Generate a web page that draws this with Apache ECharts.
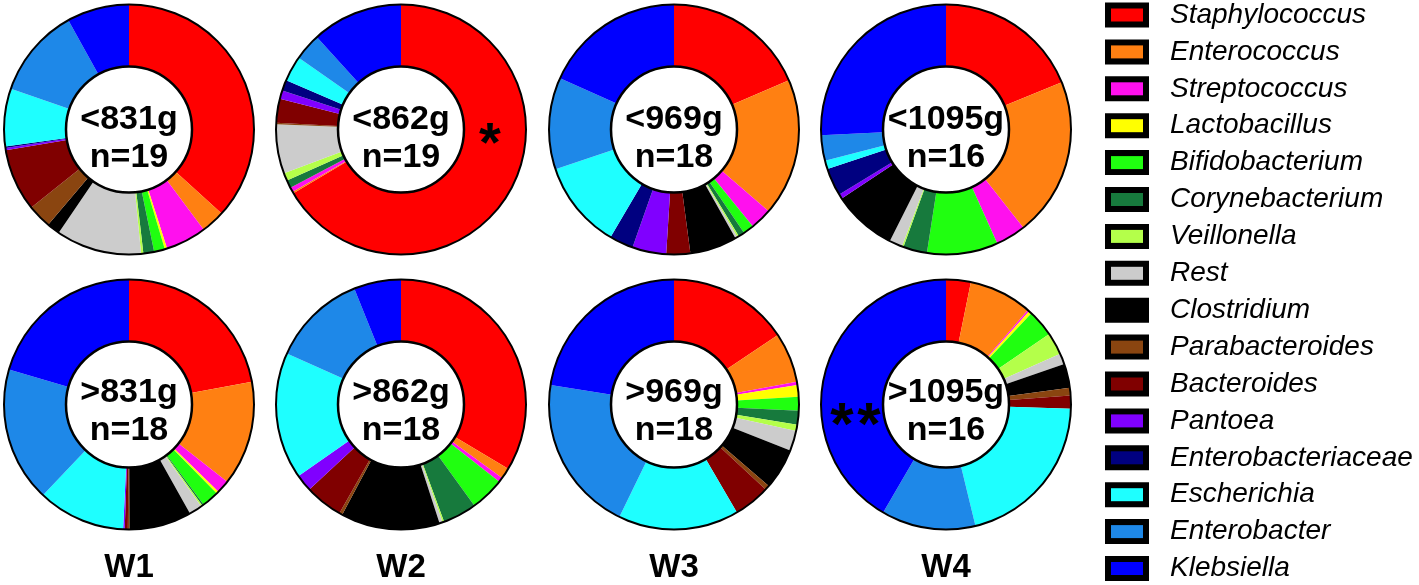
<!DOCTYPE html>
<html><head><meta charset="utf-8">
<script src="https://cdn.jsdelivr.net/npm/echarts@6/dist/echarts.min.js"></script>
<style>html,body{margin:0;padding:0;background:#fff}#c{width:1419px;height:585px}</style>
</head><body><div id="c"></div>
<script>
const categories = ['Staphylococcus','Enterococcus','Streptococcus','Lactobacillus','Bifidobacterium','Corynebacterium','Veillonella','Rest','Clostridium','Parabacteroides','Bacteroides','Pantoea','Enterobacteriaceae','Escherichia','Enterobacter','Klebsiella'];
const colors = ['#ff0000','#ff8012','#ff10ee','#ffff00','#20ff10','#177a3d','#b4ff4a','#cccccc','#000000','#8a4510','#800000','#8000ff','#000080','#1effff','#1e88e8','#0000ff'];

// relative abundance (%) per group, in category order
const w1Low  = [36.9, 3.1, 5.3, 0.3, 1.4, 1.4, 0.3, 11.1, 1.7, 3.1, 8.1, 0.3, 0.2, 7.5, 11.7, 8.1];
const w2Low  = [66.7, 0.2, 0.6, 0, 0, 1.0, 1.0, 6.4, 0, 0.2, 3.1, 1.1, 1.4, 3.3, 3.5, 11.8];
const w3Low  = [18.6, 17.8, 2.8, 0, 1.4, 0.8, 0.2, 0.3, 6.1, 0, 3.1, 4.4, 3.1, 11.4, 11.9, 18.3];
const w4Low  = [18.9, 20.6, 3.9, 0, 9.2, 3.1, 0.2, 1.7, 8.3, 0, 0, 0.6, 3.6, 1.1, 3.3, 25.8];
const w1High = [22.2, 13.6, 1.7, 0.3, 2.2, 0.2, 0.2, 1.7, 8.1, 0.2, 0.4, 0.2, 0, 11.4, 17.5, 20.6];
const w2High = [33.6, 1.4, 0.6, 0, 4.4, 4.4, 0.2, 0.4, 12.8, 0.4, 4.9, 2.2, 0, 16.4, 12.2, 6.1];
const w3High = [15.6, 6.5, 0.4, 1.5, 1.8, 1.8, 0.8, 2.6, 5.3, 0.6, 4.7, 0, 0, 15.6, 20.3, 22.5];
const w4High = [3.2, 8.2, 0.2, 0.4, 3.5, 0, 2.9, 1.4, 3.1, 1.0, 1.7, 0, 0, 20.7, 12.2, 41.7];

const lowLabels  = ['<831g','<862g','<969g','<1095g'];
const highLabels = ['>831g','>862g','>969g','>1095g'];
const nLow  = [19, 19, 18, 16];
const nHigh = [18, 18, 18, 16];
const weeks = ['W1','W2','W3','W4'];

const centersX = [129, 401, 674, 946];
const centersY = [129.5, 404.5];
const FONT = 'Liberation Sans, Arial, Helvetica, sans-serif';

const groups = [
  {vals: w1Low, label: lowLabels[0], n: nLow[0]},
  {vals: w2Low, label: lowLabels[1], n: nLow[1]},
  {vals: w3Low, label: lowLabels[2], n: nLow[2]},
  {vals: w4Low, label: lowLabels[3], n: nLow[3]},
  {vals: w1High, label: highLabels[0], n: nHigh[0]},
  {vals: w2High, label: highLabels[1], n: nHigh[1]},
  {vals: w3High, label: highLabels[2], n: nHigh[2]},
  {vals: w4High, label: highLabels[3], n: nHigh[3]}
];

const series = [];
groups.forEach((g, i) => {
  const center = [centersX[i % 4], centersY[i < 4 ? 0 : 1]];
  series.push({
    type: 'pie', center, radius: [63, 125], startAngle: 90, clockwise: true,
    silent: true, animation: false, avoidLabelOverlap: false,
    label: {show: false}, labelLine: {show: false},
    itemStyle: {borderWidth: 0},
    emphasis: {disabled: true},
    data: categories.map((c, k) => ({name: c, value: g.vals[k], itemStyle: {color: colors[k]}}))
  });
  series.push({
    type: 'pie', center, radius: [0, 125], silent: true, animation: false,
    label: {show: false}, labelLine: {show: false}, emphasis: {disabled: true},
    itemStyle: {color: 'rgba(0,0,0,0)', borderColor: '#000', borderWidth: 2},
    data: [{value: 1, name: 'outline'}]
  });
  series.push({
    type: 'pie', center, radius: [0, 63], silent: true, animation: false,
    emphasis: {disabled: true}, labelLine: {show: false},
    itemStyle: {color: '#fff', borderColor: '#000', borderWidth: 2.5},
    label: {show: true, position: 'center', formatter: g.label + '\nn=' + g.n,
      fontSize: 34, fontWeight: 'bold', color: '#000', lineHeight: 38, fontFamily: FONT},
    labelLayout: {dy: i < 4 ? 9 : 7},
    data: [{value: 1, name: 'inner'}]
  });
});

const graphic = weeks.map((w, i) => ({
  type: 'text', x: centersX[i], y: 568, z: 100,
  style: {text: w, fill: '#000', font: 'bold 33px ' + FONT, align: 'center', verticalAlign: 'middle'}
}));
graphic.push({type: 'text', x: 490, y: 146, z: 100, style: {text: '*', fill: '#000', font: 'bold 56px ' + FONT, align: 'center', verticalAlign: 'middle'}});
graphic.push({type: 'text', x: 842, y: 427, z: 100, style: {text: '*', fill: '#000', font: 'bold 60px ' + FONT, align: 'center', verticalAlign: 'middle'}});
graphic.push({type: 'text', x: 869, y: 427, z: 100, style: {text: '*', fill: '#000', font: 'bold 60px ' + FONT, align: 'center', verticalAlign: 'middle'}});

const legendText = {fontSize: 28, fontStyle: 'italic', fontFamily: FONT, color: '#000'};
const chart = echarts.init(document.getElementById('c'));
chart.setOption({
  animation: false,
  legend: [
    { // black frames of the legend swatches
      orient: 'vertical', left: 1105, top: 1, padding: 0,
      itemWidth: 44, itemHeight: 25, itemGap: 8.9, icon: 'rect',
      selectedMode: false, data: categories, z: 5,
      itemStyle: {color: '#000', borderWidth: 0},
      textStyle: Object.assign({}, legendText, {color: 'rgba(0,0,0,0)'})
    },
    { // coloured swatches and names
      orient: 'vertical', left: 1111, top: 1, padding: 0,
      itemWidth: 32, itemHeight: 13, itemGap: 8.9, icon: 'rect',
      selectedMode: false, data: categories, z: 6,
      itemStyle: {borderWidth: 0},
      textStyle: Object.assign({}, legendText, {padding: [0, 0, 0, 22]})
    }
  ],
  graphic,
  series
});
</script>
</body></html>
